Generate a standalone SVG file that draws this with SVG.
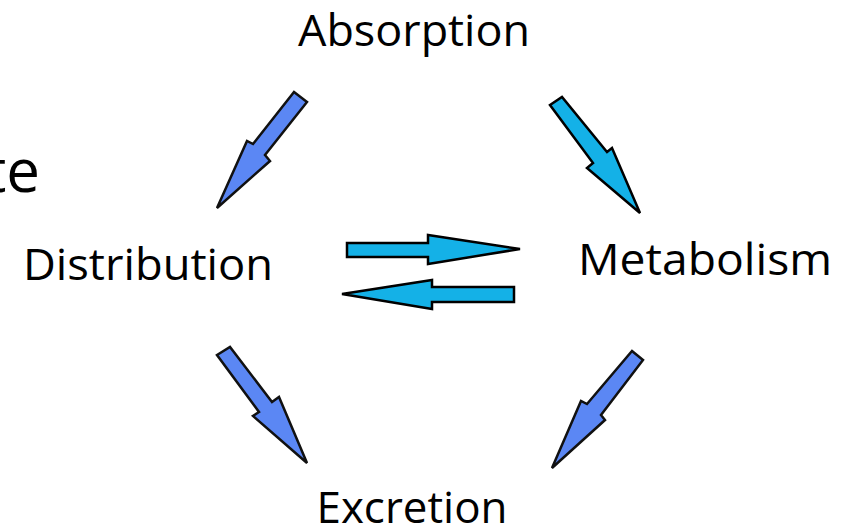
<svg xmlns="http://www.w3.org/2000/svg" width="846" height="532" viewBox="0 0 846 532">
<style>
text{font-family:"Open Sans","Noto Sans","Liberation Sans",sans-serif;fill:#000;font-size:44px}
.blue{fill:#5b87f4;stroke:#111;stroke-width:2.5;stroke-linejoin:miter}
.cyan{fill:#14b1e7;stroke:#000;stroke-width:2.5;stroke-linejoin:miter}
</style>
<rect width="846" height="532" fill="#fff"/>
<text x="40" y="192" text-anchor="end" style="font-size:60px">te</text>
<g id="absorption"><text x="414" y="46" text-anchor="middle" textLength="232" lengthAdjust="spacingAndGlyphs">Absorption</text></g>
<g id="distribution"><text x="148" y="280" text-anchor="middle" textLength="250" lengthAdjust="spacingAndGlyphs">Distribution</text></g>
<g id="metabolism"><text x="705" y="275" text-anchor="middle" textLength="254" lengthAdjust="spacingAndGlyphs">Metabolism</text></g>
<g id="excretion"><text x="412" y="523" text-anchor="middle" textLength="191" lengthAdjust="spacingAndGlyphs">Excretion</text></g>
<g id="connectors">
<polygon class="blue" points="294,92 307,102 265,155 270,161 217,208 247,141 253,144"/>
<polygon class="cyan" points="550,105 562,97 607,152 612,148 640,213 587,168 593,163"/>
<polygon class="cyan" points="347,243 428,243 428,235 520,249 428,264 428,257 347,257"/>
<polygon class="cyan" points="514,287 432,287 432,280 342,294 432,309 432,302 514,302"/>
<polygon class="blue" points="217,355 230,347 272,402 279,397 307,463 253,416 259,412"/>
<polygon class="blue" points="632,351 643,360 601,415 605,420 552,468 581,401 587,404"/>
</g>
</svg>
